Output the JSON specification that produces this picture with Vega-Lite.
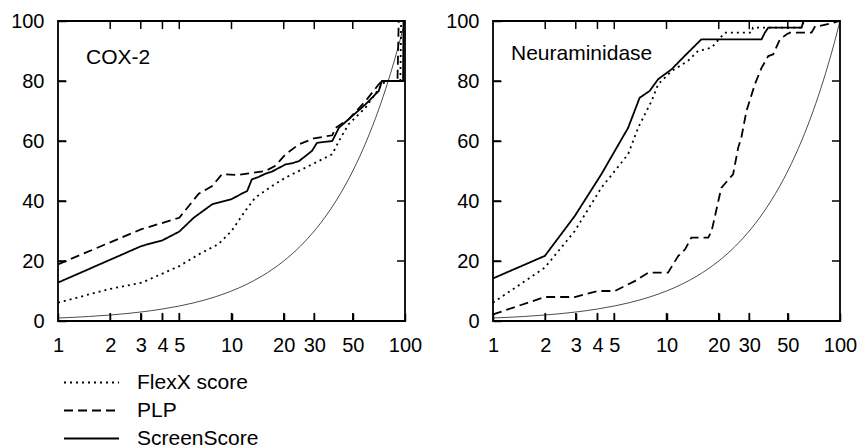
{
  "$schema": "https://vega.github.io/schema/vega-lite/v6.json",
  "padding": {"left": 9, "top": 10, "right": 0, "bottom": 0},
  "autosize": {"type": "pad"},
  "config": {
    "font": "Liberation Sans",
    "view": {"stroke": "black", "strokeWidth": 1.8}
  },
  "datasets": {
    "xticks": [{"v": 2}, {"v": 3}, {"v": 4}, {"v": 5}, {"v": 10}, {"v": 20}, {"v": 30}, {"v": 50}],
    "yticks": [{"v": 20}, {"v": 40}, {"v": 60}, {"v": 80}],
    "cox2": [
      {"method": "ScreenScore", "rank": 1, "pct": 12.8},
      {"method": "ScreenScore", "rank": 3.03, "pct": 25},
      {"method": "ScreenScore", "rank": 4, "pct": 26.9},
      {"method": "ScreenScore", "rank": 5, "pct": 29.8},
      {"method": "ScreenScore", "rank": 6.05, "pct": 34.4},
      {"method": "ScreenScore", "rank": 7.74, "pct": 38.9},
      {"method": "ScreenScore", "rank": 10, "pct": 40.6},
      {"method": "ScreenScore", "rank": 11.5, "pct": 42.5},
      {"method": "ScreenScore", "rank": 12.3, "pct": 43.3},
      {"method": "ScreenScore", "rank": 13.1, "pct": 47.2},
      {"method": "ScreenScore", "rank": 14.3, "pct": 48},
      {"method": "ScreenScore", "rank": 15.7, "pct": 49.1},
      {"method": "ScreenScore", "rank": 17.1, "pct": 49.8},
      {"method": "ScreenScore", "rank": 20.5, "pct": 52.2},
      {"method": "ScreenScore", "rank": 22.4, "pct": 52.6},
      {"method": "ScreenScore", "rank": 24.5, "pct": 53.3},
      {"method": "ScreenScore", "rank": 29.1, "pct": 56.7},
      {"method": "ScreenScore", "rank": 31.1, "pct": 59.4},
      {"method": "ScreenScore", "rank": 38.1, "pct": 60},
      {"method": "ScreenScore", "rank": 41.6, "pct": 64.4},
      {"method": "ScreenScore", "rank": 49.6, "pct": 68.3},
      {"method": "ScreenScore", "rank": 59.2, "pct": 72.2},
      {"method": "ScreenScore", "rank": 70.6, "pct": 76.7},
      {"method": "ScreenScore", "rank": 73.7, "pct": 80},
      {"method": "ScreenScore", "rank": 97.5, "pct": 80},
      {"method": "ScreenScore", "rank": 98, "pct": 100},
      {"method": "ScreenScore", "rank": 100, "pct": 100},
      {"method": "PLP", "rank": 1, "pct": 18.9},
      {"method": "PLP", "rank": 3.03, "pct": 30.6},
      {"method": "PLP", "rank": 5, "pct": 34.4},
      {"method": "PLP", "rank": 6.47, "pct": 42.4},
      {"method": "PLP", "rank": 7.74, "pct": 45},
      {"method": "PLP", "rank": 8.8, "pct": 48.9},
      {"method": "PLP", "rank": 11, "pct": 48.7},
      {"method": "PLP", "rank": 15.7, "pct": 50},
      {"method": "PLP", "rank": 17.9, "pct": 51.7},
      {"method": "PLP", "rank": 20.5, "pct": 55.6},
      {"method": "PLP", "rank": 24.5, "pct": 58.9},
      {"method": "PLP", "rank": 29.9, "pct": 60.9},
      {"method": "PLP", "rank": 38.1, "pct": 61.9},
      {"method": "PLP", "rank": 39.8, "pct": 64.4},
      {"method": "PLP", "rank": 47.3, "pct": 67.2},
      {"method": "PLP", "rank": 59.2, "pct": 73.3},
      {"method": "PLP", "rank": 70.6, "pct": 78.9},
      {"method": "PLP", "rank": 73.7, "pct": 80},
      {"method": "PLP", "rank": 90.5, "pct": 80},
      {"method": "PLP", "rank": 92, "pct": 100},
      {"method": "PLP", "rank": 100, "pct": 100},
      {"method": "FlexX score", "rank": 1, "pct": 6.1},
      {"method": "FlexX score", "rank": 1.96, "pct": 10.6},
      {"method": "FlexX score", "rank": 3.05, "pct": 12.8},
      {"method": "FlexX score", "rank": 5, "pct": 18.3},
      {"method": "FlexX score", "rank": 6.47, "pct": 22.2},
      {"method": "FlexX score", "rank": 8.4, "pct": 25.6},
      {"method": "FlexX score", "rank": 10, "pct": 30},
      {"method": "FlexX score", "rank": 12, "pct": 36.7},
      {"method": "FlexX score", "rank": 13.7, "pct": 41.1},
      {"method": "FlexX score", "rank": 17.1, "pct": 45},
      {"method": "FlexX score", "rank": 20.5, "pct": 47.8},
      {"method": "FlexX score", "rank": 29.1, "pct": 52.2},
      {"method": "FlexX score", "rank": 38.1, "pct": 55.6},
      {"method": "FlexX score", "rank": 41.6, "pct": 60},
      {"method": "FlexX score", "rank": 47.3, "pct": 65.6},
      {"method": "FlexX score", "rank": 59.2, "pct": 71.1},
      {"method": "FlexX score", "rank": 73.7, "pct": 78.9},
      {"method": "FlexX score", "rank": 78, "pct": 80},
      {"method": "FlexX score", "rank": 94, "pct": 80},
      {"method": "FlexX score", "rank": 95, "pct": 100},
      {"method": "FlexX score", "rank": 100, "pct": 100}
    ],
    "neur": [
      {"method": "ScreenScore", "rank": 1, "pct": 14.2},
      {"method": "ScreenScore", "rank": 1.99, "pct": 21.7},
      {"method": "ScreenScore", "rank": 2.96, "pct": 35},
      {"method": "ScreenScore", "rank": 4.21, "pct": 48.9},
      {"method": "ScreenScore", "rank": 6.01, "pct": 64.4},
      {"method": "ScreenScore", "rank": 7, "pct": 74.4},
      {"method": "ScreenScore", "rank": 8, "pct": 76.7},
      {"method": "ScreenScore", "rank": 8.95, "pct": 80.6},
      {"method": "ScreenScore", "rank": 10.7, "pct": 83.9},
      {"method": "ScreenScore", "rank": 12.7, "pct": 88.3},
      {"method": "ScreenScore", "rank": 15.9, "pct": 93.9},
      {"method": "ScreenScore", "rank": 35.3, "pct": 93.9},
      {"method": "ScreenScore", "rank": 36.9, "pct": 96.1},
      {"method": "ScreenScore", "rank": 38.6, "pct": 97.8},
      {"method": "ScreenScore", "rank": 60.1, "pct": 97.8},
      {"method": "ScreenScore", "rank": 61.5, "pct": 100},
      {"method": "ScreenScore", "rank": 100, "pct": 100},
      {"method": "FlexX score", "rank": 1, "pct": 6.1},
      {"method": "FlexX score", "rank": 1.99, "pct": 17.8},
      {"method": "FlexX score", "rank": 2.96, "pct": 30},
      {"method": "FlexX score", "rank": 4.21, "pct": 44.4},
      {"method": "FlexX score", "rank": 5.03, "pct": 50},
      {"method": "FlexX score", "rank": 6.01, "pct": 55.6},
      {"method": "FlexX score", "rank": 6.86, "pct": 64.4},
      {"method": "FlexX score", "rank": 8.2, "pct": 73.3},
      {"method": "FlexX score", "rank": 8.95, "pct": 78.9},
      {"method": "FlexX score", "rank": 10.7, "pct": 83.3},
      {"method": "FlexX score", "rank": 13.3, "pct": 86.7},
      {"method": "FlexX score", "rank": 15.2, "pct": 90},
      {"method": "FlexX score", "rank": 18.2, "pct": 91.1},
      {"method": "FlexX score", "rank": 21.7, "pct": 96.1},
      {"method": "FlexX score", "rank": 30.9, "pct": 96.1},
      {"method": "FlexX score", "rank": 31.5, "pct": 97.8},
      {"method": "FlexX score", "rank": 60, "pct": 97.8},
      {"method": "FlexX score", "rank": 62, "pct": 100},
      {"method": "FlexX score", "rank": 100, "pct": 100},
      {"method": "PLP", "rank": 1, "pct": 2.2},
      {"method": "PLP", "rank": 1.99, "pct": 8},
      {"method": "PLP", "rank": 2.96, "pct": 8},
      {"method": "PLP", "rank": 4.03, "pct": 10},
      {"method": "PLP", "rank": 5.03, "pct": 10},
      {"method": "PLP", "rank": 6.56, "pct": 13.3},
      {"method": "PLP", "rank": 7.85, "pct": 16.1},
      {"method": "PLP", "rank": 10.2, "pct": 16.1},
      {"method": "PLP", "rank": 11.7, "pct": 21.7},
      {"method": "PLP", "rank": 12.8, "pct": 23.9},
      {"method": "PLP", "rank": 13.9, "pct": 27.8},
      {"method": "PLP", "rank": 17.4, "pct": 27.8},
      {"method": "PLP", "rank": 18.2, "pct": 30},
      {"method": "PLP", "rank": 20.7, "pct": 44.4},
      {"method": "PLP", "rank": 24.2, "pct": 48.9},
      {"method": "PLP", "rank": 25.9, "pct": 57.8},
      {"method": "PLP", "rank": 27, "pct": 61.1},
      {"method": "PLP", "rank": 28.9, "pct": 70},
      {"method": "PLP", "rank": 32.3, "pct": 78.9},
      {"method": "PLP", "rank": 35.3, "pct": 84.4},
      {"method": "PLP", "rank": 38.6, "pct": 88.3},
      {"method": "PLP", "rank": 41.2, "pct": 88.9},
      {"method": "PLP", "rank": 45.1, "pct": 93.9},
      {"method": "PLP", "rank": 49.3, "pct": 95.6},
      {"method": "PLP", "rank": 51.4, "pct": 96.1},
      {"method": "PLP", "rank": 68.5, "pct": 96.1},
      {"method": "PLP", "rank": 72, "pct": 98.3},
      {"method": "PLP", "rank": 76, "pct": 98.3},
      {"method": "PLP", "rank": 100, "pct": 100}
    ],
    "random": [
      {"rank": 1, "pct": 1},
      {"rank": 1.25, "pct": 1.25},
      {"rank": 1.5, "pct": 1.5},
      {"rank": 2, "pct": 2},
      {"rank": 2.5, "pct": 2.5},
      {"rank": 3, "pct": 3},
      {"rank": 4, "pct": 4},
      {"rank": 5, "pct": 5},
      {"rank": 6, "pct": 6},
      {"rank": 8, "pct": 8},
      {"rank": 10, "pct": 10},
      {"rank": 12, "pct": 12},
      {"rank": 15, "pct": 15},
      {"rank": 20, "pct": 20},
      {"rank": 25, "pct": 25},
      {"rank": 30, "pct": 30},
      {"rank": 35, "pct": 35},
      {"rank": 40, "pct": 40},
      {"rank": 45, "pct": 45},
      {"rank": 50, "pct": 50},
      {"rank": 55, "pct": 55},
      {"rank": 60, "pct": 60},
      {"rank": 65, "pct": 65},
      {"rank": 70, "pct": 70},
      {"rank": 75, "pct": 75},
      {"rank": 80, "pct": 80},
      {"rank": 85, "pct": 85},
      {"rank": 90, "pct": 90},
      {"rank": 95, "pct": 95},
      {"rank": 100, "pct": 100}
    ]
  },
  "spacing": 21,
  "hconcat": [
    {
      "width": 347,
      "height": 300,
      "layer": [
        {
          "data": {"name": "xticks"},
          "mark": {"type": "rule", "color": "black", "strokeWidth": 1.5},
          "encoding": {
            "x": {"field": "v", "type": "quantitative", "scale": {"type": "log", "domain": [1, 100]},
                  "axis": {"orient": "bottom", "values": [1, 2, 3, 4, 5, 10, 20, 30, 50, 100], "format": "d",
                           "title": null, "grid": false, "domain": false, "zindex": 1,
                           "tickSize": -8, "tickColor": "black", "tickWidth": 1.5,
                           "labelColor": "black", "labelFont": "Liberation Sans", "labelFontSize": 20,
                           "labelOverlap": false, "labelFlush": false, "labelPadding": 22}},
            "y": {"datum": 0, "type": "quantitative", "scale": {"domain": [0, 100]},
                  "axis": {"orient": "left", "values": [0, 20, 40, 60, 80, 100],
                           "title": null, "grid": false, "domain": false, "zindex": 1,
                           "tickSize": -8, "tickColor": "black", "tickWidth": 1.5,
                           "labelColor": "black", "labelFont": "Liberation Sans", "labelFontSize": 20,
                           "labelOverlap": false, "labelFlush": false, "labelPadding": 22}},
            "y2": {"datum": 2.7}
          }
        },
        {
          "data": {"name": "xticks"},
          "mark": {"type": "rule", "color": "black", "strokeWidth": 1.5},
          "encoding": {
            "x": {"field": "v", "type": "quantitative"},
            "y": {"datum": 100, "type": "quantitative"},
            "y2": {"datum": 97.3}
          }
        },
        {
          "data": {"name": "yticks"},
          "mark": {"type": "rule", "color": "black", "strokeWidth": 1.5},
          "encoding": {
            "y": {"field": "v", "type": "quantitative"},
            "x": {"datum": 1, "type": "quantitative"},
            "x2": {"datum": 1.112}
          }
        },
        {
          "data": {"name": "yticks"},
          "mark": {"type": "rule", "color": "black", "strokeWidth": 1.5},
          "encoding": {
            "y": {"field": "v", "type": "quantitative"},
            "x": {"datum": 100, "type": "quantitative"},
            "x2": {"datum": 89.9}
          }
        },
        {
          "data": {"name": "random"},
          "mark": {"type": "line", "color": "black", "strokeWidth": 0.7, "interpolate": "monotone"},
          "encoding": {
            "x": {"field": "rank", "type": "quantitative"},
            "y": {"field": "pct", "type": "quantitative"}
          }
        },
        {
          "data": {"name": "cox2"},
          "mark": {"type": "line", "color": "black", "strokeWidth": 1.8},
          "encoding": {
            "x": {"field": "rank", "type": "quantitative"},
            "y": {"field": "pct", "type": "quantitative"},
            "strokeDash": {
              "field": "method", "type": "nominal",
              "scale": {"domain": ["FlexX score", "PLP", "ScreenScore"], "range": [[2, 4], [9, 5], [1, 0]]},
              "legend": {
                "title": null, "orient": "none", "legendX": 5, "legendY": 351,
                "symbolType": "stroke", "symbolSize": 3025, "symbolStrokeWidth": 1.8,
                "symbolStrokeColor": "black", "labelFontSize": 21, "labelColor": "black",
                "labelOffset": 17, "clipHeight": 21, "rowPadding": 6, "padding": 0
              }
            }
          }
        },
        {
          "data": {"values": [{"panel": "COX-2"}]},
          "mark": {"type": "text", "align": "left", "baseline": "alphabetic", "fontSize": 21, "color": "black"},
          "encoding": {
            "x": {"datum": 1.45, "type": "quantitative"},
            "y": {"datum": 85.7, "type": "quantitative"},
            "text": {"field": "panel"}
          }
        }
      ]
    },
    {
      "width": 347,
      "height": 300,
      "layer": [
        {
          "data": {"name": "xticks"},
          "mark": {"type": "rule", "color": "black", "strokeWidth": 1.5},
          "encoding": {
            "x": {"field": "v", "type": "quantitative", "scale": {"type": "log", "domain": [1, 100]},
                  "axis": {"orient": "bottom", "values": [1, 2, 3, 4, 5, 10, 20, 30, 50, 100], "format": "d",
                           "title": null, "grid": false, "domain": false, "zindex": 1,
                           "tickSize": -8, "tickColor": "black", "tickWidth": 1.5,
                           "labelColor": "black", "labelFont": "Liberation Sans", "labelFontSize": 20,
                           "labelOverlap": false, "labelFlush": false, "labelPadding": 22}},
            "y": {"datum": 0, "type": "quantitative", "scale": {"domain": [0, 100]},
                  "axis": {"orient": "left", "values": [0, 20, 40, 60, 80, 100],
                           "title": null, "grid": false, "domain": false, "zindex": 1,
                           "tickSize": -8, "tickColor": "black", "tickWidth": 1.5,
                           "labelColor": "black", "labelFont": "Liberation Sans", "labelFontSize": 20,
                           "labelOverlap": false, "labelFlush": false, "labelPadding": 22}},
            "y2": {"datum": 2.7}
          }
        },
        {
          "data": {"name": "xticks"},
          "mark": {"type": "rule", "color": "black", "strokeWidth": 1.5},
          "encoding": {
            "x": {"field": "v", "type": "quantitative"},
            "y": {"datum": 100, "type": "quantitative"},
            "y2": {"datum": 97.3}
          }
        },
        {
          "data": {"name": "yticks"},
          "mark": {"type": "rule", "color": "black", "strokeWidth": 1.5},
          "encoding": {
            "y": {"field": "v", "type": "quantitative"},
            "x": {"datum": 1, "type": "quantitative"},
            "x2": {"datum": 1.112}
          }
        },
        {
          "data": {"name": "yticks"},
          "mark": {"type": "rule", "color": "black", "strokeWidth": 1.5},
          "encoding": {
            "y": {"field": "v", "type": "quantitative"},
            "x": {"datum": 100, "type": "quantitative"},
            "x2": {"datum": 89.9}
          }
        },
        {
          "data": {"name": "random"},
          "mark": {"type": "line", "color": "black", "strokeWidth": 0.7, "interpolate": "monotone"},
          "encoding": {
            "x": {"field": "rank", "type": "quantitative"},
            "y": {"field": "pct", "type": "quantitative"}
          }
        },
        {
          "data": {"name": "neur"},
          "mark": {"type": "line", "color": "black", "strokeWidth": 1.8},
          "encoding": {
            "x": {"field": "rank", "type": "quantitative"},
            "y": {"field": "pct", "type": "quantitative"},
            "strokeDash": {"field": "method", "type": "nominal", "legend": null}
          }
        },
        {
          "data": {"values": [{"panel": "Neuraminidase"}]},
          "mark": {"type": "text", "align": "left", "baseline": "alphabetic", "fontSize": 21, "color": "black"},
          "encoding": {
            "x": {"datum": 1.27, "type": "quantitative"},
            "y": {"datum": 87, "type": "quantitative"},
            "text": {"field": "panel"}
          }
        }
      ]
    }
  ]
}
